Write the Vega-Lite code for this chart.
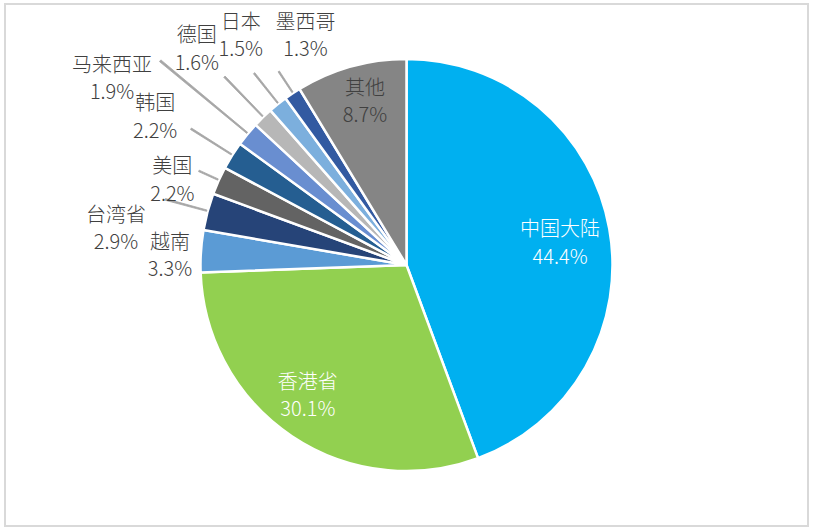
{
  "$schema": "https://vega.github.io/schema/vega-lite/v6.json",
  "width": 803,
  "height": 522,
  "autosize": "none",
  "padding": {"left": 5, "right": 5, "top": 4, "bottom": 4},
  "background": "white",
  "view": {"stroke": "#D9D9D9", "strokeWidth": 2},
  "config": {
    "text": {"font": "Noto Sans CJK SC, sans-serif", "fontSize": 20, "fontWeight": 300, "lineHeight": 27.5, "align": "center", "baseline": "middle", "lineBreak": "|", "fill": "#404040"}
  },
  "data": {"values": [
    {"name": "中国大陆", "value": 44.4},
    {"name": "香港省", "value": 30.1},
    {"name": "越南", "value": 3.3},
    {"name": "台湾省", "value": 2.9},
    {"name": "美国", "value": 2.2},
    {"name": "韩国", "value": 2.2},
    {"name": "马来西亚", "value": 1.9},
    {"name": "德国", "value": 1.6},
    {"name": "日本", "value": 1.5},
    {"name": "墨西哥", "value": 1.3},
    {"name": "其他", "value": 8.7}
  ]},
  "transform": [
    {"stack": "value", "groupby": [], "as": ["v0", "v1"]},
    {"calculate": "(datum.v0 + datum.v1) / 2", "as": "mid"},
    {"calculate": "datum.mid + 0.11", "as": "mid2"},
    {"calculate": "datum.name + '|' + format(datum.value, '.1f') + '%'", "as": "label"}
  ],
  "layer": [
    {
      "mark": {"type": "arc", "radius": 206, "stroke": "white", "strokeWidth": 2.5},
      "encoding": {
        "theta": {"field": "v0", "type": "quantitative", "stack": null, "scale": {"domain": [0, 100.1], "range": [0, 6.283185307]}},
        "theta2": {"field": "v1"},
        "color": {"field": "name", "type": "nominal", "legend": null, "sort": null,
          "scale": {"domain": ["中国大陆", "香港省", "越南", "台湾省", "美国", "韩国", "马来西亚", "德国", "日本", "墨西哥", "其他"],
                    "range": ["#00B0F0", "#92D050", "#5B9BD5", "#264478", "#636363", "#255E91", "#698ED0", "#B7B7B7", "#7CAFDD", "#335AA1", "#858585"]}}
      }
    },
    {"transform": [{"filter": "datum.name === '台湾省'"}], "mark": {"type": "arc", "radius": 250, "radius2": 207, "fill": "#A6A6A6", "stroke": "#A6A6A6", "strokeWidth": 0.8},
     "encoding": {"theta": {"field": "mid", "type": "quantitative", "stack": null}, "theta2": {"field": "mid2"}}},
    {"transform": [{"filter": "datum.name === '美国'"}], "mark": {"type": "arc", "radius": 228, "radius2": 207, "fill": "#A6A6A6", "stroke": "#A6A6A6", "strokeWidth": 0.8},
     "encoding": {"theta": {"field": "mid", "type": "quantitative", "stack": null}, "theta2": {"field": "mid2"}}},
    {"transform": [{"filter": "datum.name === '韩国'"}], "mark": {"type": "arc", "radius": 255, "radius2": 207, "fill": "#A6A6A6", "stroke": "#A6A6A6", "strokeWidth": 0.8},
     "encoding": {"theta": {"field": "mid", "type": "quantitative", "stack": null}, "theta2": {"field": "mid2"}}},
    {"transform": [{"filter": "datum.name === '马来西亚'"}], "mark": {"type": "arc", "radius": 320, "radius2": 207, "fill": "#A6A6A6", "stroke": "#A6A6A6", "strokeWidth": 0.8},
     "encoding": {"theta": {"field": "mid", "type": "quantitative", "stack": null}, "theta2": {"field": "mid2"}}},
    {"transform": [{"filter": "datum.name === '德国'"}], "mark": {"type": "arc", "radius": 262, "radius2": 207, "fill": "#A6A6A6", "stroke": "#A6A6A6", "strokeWidth": 0.8},
     "encoding": {"theta": {"field": "mid", "type": "quantitative", "stack": null}, "theta2": {"field": "mid2"}}},
    {"transform": [{"filter": "datum.name === '日本'"}], "mark": {"type": "arc", "radius": 245, "radius2": 207, "fill": "#A6A6A6", "stroke": "#A6A6A6", "strokeWidth": 0.8},
     "encoding": {"theta": {"field": "mid", "type": "quantitative", "stack": null}, "theta2": {"field": "mid2"}}},
    {"transform": [{"filter": "datum.name === '墨西哥'"}], "mark": {"type": "arc", "radius": 232, "radius2": 207, "fill": "#A6A6A6", "stroke": "#A6A6A6", "strokeWidth": 0.8},
     "encoding": {"theta": {"field": "mid", "type": "quantitative", "stack": null}, "theta2": {"field": "mid2"}}},
    {"transform": [{"filter": "datum.name === '中国大陆'"}], "mark": {"type": "text", "radius": 155, "dx": 1, "dy": -7.5, "fill": "white"},
     "encoding": {"theta": {"field": "mid", "type": "quantitative", "stack": null}, "text": {"field": "label"}}},
    {"transform": [{"filter": "datum.name === '香港省'"}], "mark": {"type": "text", "radius": 163, "dx": -8, "dy": -17.5, "fill": "white"},
     "encoding": {"theta": {"field": "mid", "type": "quantitative", "stack": null}, "text": {"field": "label"}}},
    {"transform": [{"filter": "datum.name === '越南'"}], "mark": {"type": "text", "radius": 237, "dx": 0, "dy": -6.5},
     "encoding": {"theta": {"field": "mid", "type": "quantitative", "stack": null}, "text": {"field": "label"}}},
    {"transform": [{"filter": "datum.name === '台湾省'"}], "mark": {"type": "text", "radius": 293, "dx": -7.5, "dy": 26.5},
     "encoding": {"theta": {"field": "mid", "type": "quantitative", "stack": null}, "text": {"field": "label"}}},
    {"transform": [{"filter": "datum.name === '美国'"}], "mark": {"type": "text", "radius": 249, "dx": -7, "dy": 4.5},
     "encoding": {"theta": {"field": "mid", "type": "quantitative", "stack": null}, "text": {"field": "label"}}},
    {"transform": [{"filter": "datum.name === '韩国'"}], "mark": {"type": "text", "radius": 292, "dx": -4, "dy": -5.5},
     "encoding": {"theta": {"field": "mid", "type": "quantitative", "stack": null}, "text": {"field": "label"}}},
    {"transform": [{"filter": "datum.name === '马来西亚'"}], "mark": {"type": "text", "radius": 349, "dx": -25, "dy": 22.5},
     "encoding": {"theta": {"field": "mid", "type": "quantitative", "stack": null}, "text": {"field": "label"}}},
    {"transform": [{"filter": "datum.name === '德国'"}], "mark": {"type": "text", "radius": 302, "dx": 1, "dy": -12.5},
     "encoding": {"theta": {"field": "mid", "type": "quantitative", "stack": null}, "text": {"field": "label"}}},
    {"transform": [{"filter": "datum.name === '日本'"}], "mark": {"type": "text", "radius": 283, "dx": 11, "dy": -21.5},
     "encoding": {"theta": {"field": "mid", "type": "quantitative", "stack": null}, "text": {"field": "label"}}},
    {"transform": [{"filter": "datum.name === '墨西哥'"}], "mark": {"type": "text", "radius": 251, "dx": 38, "dy": -33.5},
     "encoding": {"theta": {"field": "mid", "type": "quantitative", "stack": null}, "text": {"field": "label"}}},
    {"transform": [{"filter": "datum.name === '其他'"}], "mark": {"type": "text", "radius": 169, "dx": 4, "dy": -13.5},
     "encoding": {"theta": {"field": "mid", "type": "quantitative", "stack": null}, "text": {"field": "label"}}}
  ]
}
